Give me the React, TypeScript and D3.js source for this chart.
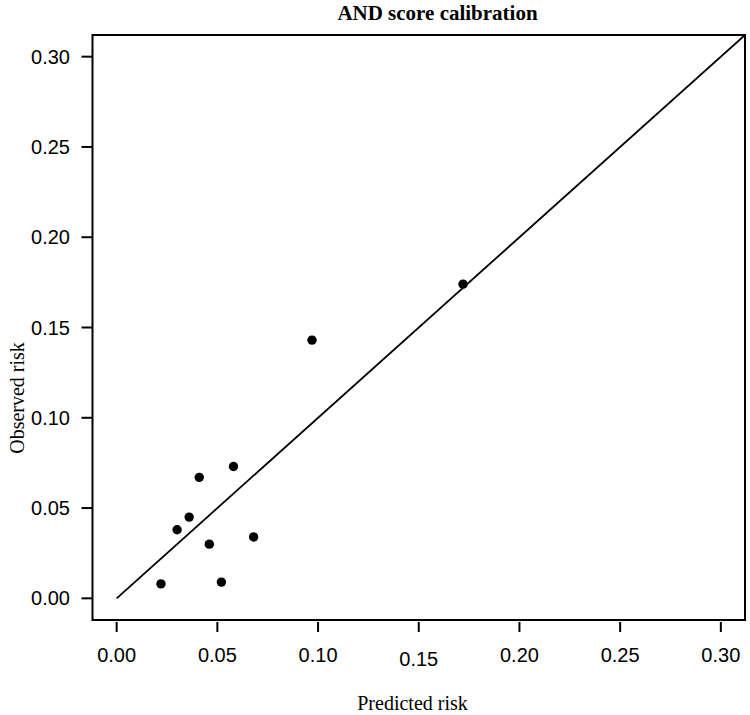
import React from "react";
import * as d3 from "d3";

const predicted = [0.022, 0.052, 0.030, 0.036, 0.046, 0.041, 0.058, 0.068, 0.097, 0.172];
const observed = [0.008, 0.009, 0.038, 0.045, 0.030, 0.067, 0.073, 0.034, 0.143, 0.174];
const tickValues = [0, 0.05, 0.1, 0.15, 0.2, 0.25, 0.3];
const title = "AND score calibration";
const xLabel = "Predicted risk";
const yLabel = "Observed risk";

export default function App() {
  const W = 750, H = 715;
  const left = 92.5, right = 745, top = 35, bottom = 620;
  const x = d3.scaleLinear().domain([-0.012, 0.312]).range([left, right]);
  const y = d3.scaleLinear().domain([-0.012, 0.312]).range([bottom, top]);
  const fmt = d3.format(".2f");
  const line = d3.line<[number, number]>().x((d) => x(d[0])).y((d) => y(d[1]));
  const pts = predicted.map((p, i) => ({ p, o: observed[i] }));
  const sans = "'Liberation Sans', Arial, sans-serif";
  const serif = "'Liberation Serif', 'Times New Roman', serif";
  return (
    <svg width={W} height={H} style={{ position: "absolute", left: 0, top: 0, background: "#fff" }}>
      <defs>
        <clipPath id="plotclip">
          <rect x={left} y={top} width={right - left} height={bottom - top} />
        </clipPath>
      </defs>
      <rect x={0} y={0} width={W} height={H} fill="#fff" />
      <text x={437.5} y={20} textAnchor="middle" fontFamily={serif} fontWeight="bold" fontSize={21}>
        {title}
      </text>
      <rect x={left} y={top} width={right - left} height={bottom - top} fill="none" stroke="#000" strokeWidth={2} />
      <path
        d={line([[0, 0], [0.4, 0.4]]) || ""}
        fill="none"
        stroke="#000"
        strokeWidth={1.8}
        clipPath="url(#plotclip)"
      />
      {pts.map((d, i) => (
        <circle key={i} cx={x(d.p)} cy={y(d.o)} r={4.7} fill="#000" />
      ))}
      {/* y axis */}
      {tickValues.map((t) => (
        <g key={"y" + t}>
          <line x1={left - 11} x2={left} y1={y(t)} y2={y(t)} stroke="#000" strokeWidth={2} />
          <text x={70} y={y(t)} dy="0.35em" textAnchor="end" fontFamily={sans} fontSize={20}>
            {fmt(t)}
          </text>
        </g>
      ))}
      {/* x axis */}
      {tickValues.map((t) => (
        <g key={"x" + t}>
          <line x1={x(t)} x2={x(t)} y1={bottom + 2} y2={bottom + 12} stroke="#000" strokeWidth={2} />
          <text
            x={x(t)}
            y={Math.abs(t - 0.15) < 1e-9 ? 666 : 662}
            textAnchor="middle"
            fontFamily={sans}
            fontSize={20}
          >
            {fmt(t)}
          </text>
        </g>
      ))}
      <text x={412.5} y={710} textAnchor="middle" fontFamily={serif} fontSize={20}>
        {xLabel}
      </text>
      <text
        transform={`translate(24, 398) rotate(-90)`}
        textAnchor="middle"
        fontFamily={serif}
        fontSize={20}
      >
        {yLabel}
      </text>
    </svg>
  );
}
